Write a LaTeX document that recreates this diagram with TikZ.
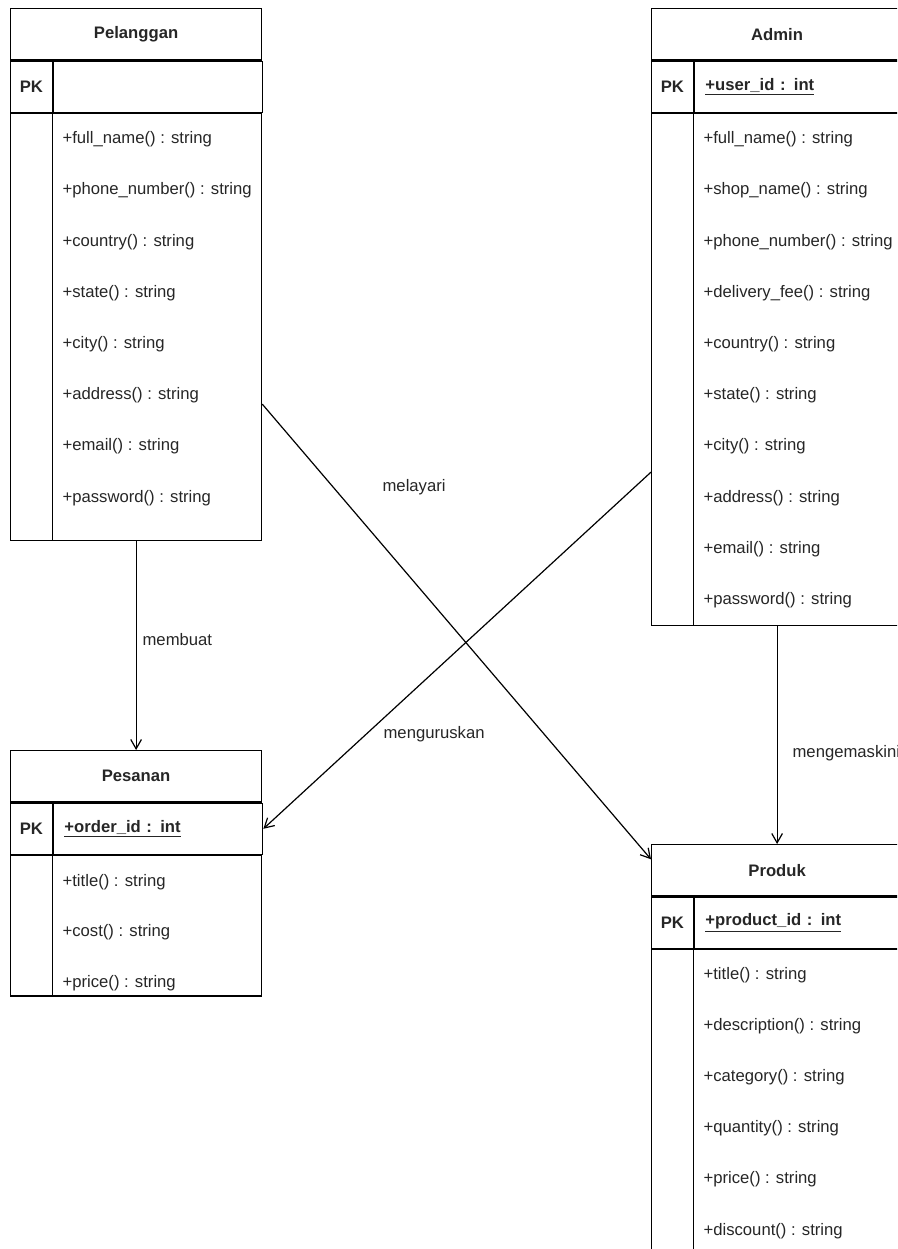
\documentclass[tikz,border=0pt]{standalone}
\usepackage{fontspec}
\setmainfont{Liberation Sans}
\usepackage{tikz}
\usetikzlibrary{positioning,calc,arrows.meta}
\newcommand{\umlfont}{\fontsize{12.5pt}{15pt}\selectfont}
\tikzstyle{tblhead}=[draw,%
                     rectangle,%
                     minimum width  = 188.25pt,%
                     minimum height = 38.6pt,%
                     inner sep      = 0pt,%
                     font=\umlfont\bfseries]
\tikzstyle{pkcell}=[draw,rectangle,minimum width=31.25pt,minimum height=38.25pt,inner sep=0pt,font=\umlfont\bfseries]
\tikzstyle{keycell}=[draw,rectangle,minimum height=38.25pt,text width=140.5pt,inner xsep=8.25pt,inner ysep=0pt,align=left,font=\umlfont\bfseries]
\tikzstyle{tblbody}=[draw,rectangle,minimum width=188.25pt,inner sep=0pt]
\tikzstyle{attr}=[inner sep=0pt,font=\umlfont]
\tikzstyle{lbl}=[anchor=west,inner sep=0pt,font=\umlfont]

\begin{document}
\begin{tikzpicture}[x=0.75pt,y=-0.75pt,line width=0.9pt,text=black!85,
                    >={Straight Barb[length=7pt,width=8pt]}]
  \useasboundingbox (0,0) rectangle (897,1249);
  \clip (0,0) rectangle (897,1249);

  % Pelanggan
  \node[tblhead,anchor=north west] (pel) at (10,8) {Pelanggan};
  \node[pkcell][below right=0pt of pel.south west] (pelpk) {PK};
  \node[keycell][right=0pt of pelpk] (pelkey) {};
  \node[tblbody,minimum height=320.25pt][below right=0pt of pelpk.south west] (pelbox) {};
  \draw (pelpk.south east) -- (pelpk.south east |- pelbox.south);
  \node[attr,anchor=west] (pa1) at ($(pelbox.north west)+(52,26.5)$) {+full\_name() : string};
  \node[attr,below=38.4pt of pa1.west,anchor=west] (pa2) {+phone\_number() : string};
  \node[attr,below=38.4pt of pa2.west,anchor=west] (pa3) {+country() : string};
  \node[attr,below=38.4pt of pa3.west,anchor=west] (pa4) {+state() : string};
  \node[attr,below=38.4pt of pa4.west,anchor=west] (pa5) {+city() : string};
  \node[attr,below=38.4pt of pa5.west,anchor=west] (pa6) {+address() : string};
  \node[attr,below=38.4pt of pa6.west,anchor=west] (pa7) {+email() : string};
  \node[attr,below=38.4pt of pa7.west,anchor=west] (pa8) {+password() : string};

  % Admin
  \node[tblhead,anchor=north west] (adm) at (651,8) {Admin};
  \node[pkcell][below right=0pt of adm.south west] (admpk) {PK};
  \node[keycell][right=0pt of admpk] (admkey) {\underline{+user\_id : int}};
  \node[tblbody,minimum height=384pt][below right=0pt of admpk.south west] (admbox) {};
  \draw (admpk.south east) -- (admpk.south east |- admbox.south);
  \node[attr,anchor=west] (aa1) at ($(admbox.north west)+(52,26.5)$) {+full\_name() : string};
  \node[attr,below=38.4pt of aa1.west,anchor=west] (aa2) {+shop\_name() : string};
  \node[attr,below=38.4pt of aa2.west,anchor=west] (aa3) {+phone\_number() : string};
  \node[attr,below=38.4pt of aa3.west,anchor=west] (aa4) {+delivery\_fee() : string};
  \node[attr,below=38.4pt of aa4.west,anchor=west] (aa5) {+country() : string};
  \node[attr,below=38.4pt of aa5.west,anchor=west] (aa6) {+state() : string};
  \node[attr,below=38.4pt of aa6.west,anchor=west] (aa7) {+city() : string};
  \node[attr,below=38.4pt of aa7.west,anchor=west] (aa8) {+address() : string};
  \node[attr,below=38.4pt of aa8.west,anchor=west] (aa9) {+email() : string};
  \node[attr,below=38.4pt of aa9.west,anchor=west] (aa10) {+password() : string};

  % Pesanan
  \node[tblhead,anchor=north west] (pes) at (10,750) {Pesanan};
  \node[pkcell][below right=0pt of pes.south west] (pespk) {PK};
  \node[keycell][right=0pt of pespk] (peskey) {\underline{+order\_id : int}};
  \node[tblbody,minimum height=105.4pt][below right=0pt of pespk.south west] (pesbox) {};
  \draw (pespk.south east) -- (pespk.south east |- pesbox.south);
  \node[attr,anchor=west] (sa1) at ($(pesbox.north west)+(52,27)$) {+title() : string};
  \node[attr,below=38pt of sa1.west,anchor=west] (sa2) {+cost() : string};
  \node[attr,below=38pt of sa2.west,anchor=west] (sa3) {+price() : string};

  % Produk
  \node[tblhead,anchor=north west] (pro) at (651,844) {Produk};
  \node[pkcell][below right=0pt of pro.south west] (propk) {PK};
  \node[keycell][right=0pt of propk] (prokey) {\underline{+product\_id : int}};
  \node[tblbody,minimum height=240pt][below right=0pt of propk.south west] (probox) {};
  \draw (propk.south east) -- (propk.south east |- probox.south);
  \node[attr,anchor=west] (ra1) at ($(probox.north west)+(52,26)$) {+title() : string};
  \node[attr,below=38.4pt of ra1.west,anchor=west] (ra2) {+description() : string};
  \node[attr,below=38.4pt of ra2.west,anchor=west] (ra3) {+category() : string};
  \node[attr,below=38.4pt of ra3.west,anchor=west] (ra4) {+quantity() : string};
  \node[attr,below=38.4pt of ra4.west,anchor=west] (ra5) {+price() : string};
  \node[attr,below=38.4pt of ra5.west,anchor=west] (ra6) {+discount() : string};

  % relations
  \draw[->] (pelbox.south) -- (pes.north);
  \draw[->] ($(pelbox.north east)!0.68!(pelbox.south east)$) -- ($(pro.north west)!0.29!(pro.south west)$);
  \draw[->] ($(admbox.north west)!0.7!(admbox.south west)$) -- (peskey.east);
  \draw[->] (admbox.south) -- (pro.north);

  \node[lbl] (lmembuat) at (142,640) {membuat};
  \node[lbl] (lmelayari) at (382,487) {melayari};
  \node[lbl] (lurus) at (383,734) {menguruskan};
  \node[lbl] (lkemas) at (792,753) {mengemaskini};
\end{tikzpicture}
\end{document}
